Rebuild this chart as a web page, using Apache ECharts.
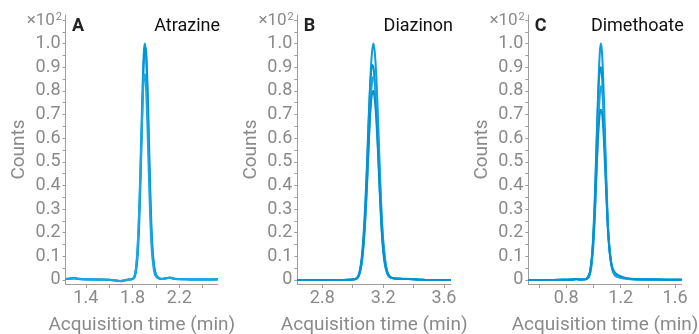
<!DOCTYPE html>
<html>
<head>
<meta charset="utf-8">
<script src="https://cdn.jsdelivr.net/npm/echarts@6/dist/echarts.min.js"></script>
<style>
html,body{margin:0;padding:0;background:#fff;}
#chart{width:699px;height:334px;}
</style>
</head>
<body>
<div id="chart"></div>
<script>
// ---- Data ----
const panelLetters = ['A', 'B', 'C'];
const compounds = ['Atrazine', 'Diazinon', 'Dimethoate'];
const yTicks = [0, 0.05, 0.1, 0.15, 0.2, 0.25, 0.3, 0.35, 0.4, 0.45, 0.5, 0.55, 0.6, 0.65, 0.7, 0.75, 0.8, 0.85, 0.9, 0.95, 1.0, 1.05, 1.1];
const yLabels = [0, 0.1, 0.2, 0.3, 0.4, 0.5, 0.6, 0.7, 0.8, 0.9, 1.0];
const xRanges = [[1.226, 2.531], [2.636, 3.646], [0.521, 1.649]];
const xTicksA = [1.4, 1.6, 1.8, 2.0, 2.2, 2.4];
const xLabelsA = [1.4, 1.8, 2.2];
const xTicksB = [2.8, 3.0, 3.2, 3.4, 3.6];
const xLabelsB = [2.8, 3.2, 3.6];
const xTicksC = [0.6, 0.8, 1.0, 1.2, 1.4, 1.6];
const xLabelsC = [0.8, 1.2, 1.6];

// Atrazine (A)
const tA = [1.226,1.26,1.30,1.34,1.40,1.50,1.60,1.66,1.70,1.74,1.78,1.80,1.815,1.83,1.845,1.86,1.87,1.88,1.89,1.897,1.905,1.913,1.92,1.93,1.94,1.95,1.96,1.97,1.985,2.00,2.02,2.05,2.09,2.12,2.16,2.25,2.35,2.45,2.531];
const atrazine1 = [0.004,0.006,0.008,0.005,0.003,0.002,0.001,-0.002,-0.005,-0.001,0.002,0.005,0.012,0.05,0.15,0.35,0.53,0.72,0.89,0.97,1.00,0.97,0.89,0.72,0.53,0.35,0.21,0.12,0.05,0.02,0.008,0.004,0.008,0.010,0.005,0.003,0.002,0.002,0.003];
const atrazine2 = [0.003,0.005,0.007,0.004,0.002,0.002,0.001,-0.003,-0.004,0.000,0.003,0.004,0.009,0.035,0.11,0.28,0.45,0.64,0.83,0.93,0.975,0.98,0.93,0.79,0.60,0.41,0.25,0.14,0.06,0.025,0.01,0.005,0.007,0.009,0.004,0.003,0.002,0.002,0.003];
const atrazine3 = [0.004,0.005,0.006,0.005,0.003,0.001,0.000,-0.002,-0.004,0.000,0.002,0.006,0.014,0.055,0.16,0.34,0.50,0.66,0.80,0.86,0.87,0.83,0.75,0.60,0.43,0.28,0.16,0.09,0.035,0.015,0.007,0.004,0.007,0.009,0.005,0.003,0.002,0.002,0.002];

// Diazinon (B)
const tB = [2.636,2.70,2.80,2.90,2.98,3.01,3.03,3.045,3.06,3.075,3.09,3.10,3.11,3.12,3.128,3.136,3.144,3.152,3.16,3.17,3.18,3.195,3.21,3.225,3.24,3.26,3.30,3.35,3.40,3.45,3.50,3.60,3.646];
const diazinon1 = [0,0,0,0,0.001,0.003,0.008,0.028,0.08,0.20,0.40,0.57,0.75,0.90,0.97,1.00,0.97,0.90,0.79,0.62,0.44,0.22,0.10,0.04,0.018,0.009,0.005,0.004,0.003,0.001,0,0,0];
const diazinon2 = [0,0,0,0,0.001,0.004,0.01,0.035,0.10,0.23,0.43,0.60,0.76,0.87,0.91,0.90,0.85,0.77,0.66,0.50,0.34,0.16,0.07,0.03,0.013,0.007,0.005,0.004,0.003,0.001,0,0,0];
const diazinon3 = [0,0,0,0,0.001,0.002,0.007,0.024,0.07,0.17,0.34,0.49,0.65,0.78,0.84,0.86,0.84,0.78,0.69,0.55,0.40,0.21,0.10,0.04,0.018,0.009,0.006,0.005,0.003,0.001,0,0,0];
const diazinon4 = [0,0,0,0,0.001,0.003,0.009,0.03,0.085,0.19,0.36,0.50,0.64,0.75,0.79,0.80,0.77,0.71,0.62,0.49,0.35,0.18,0.08,0.035,0.015,0.008,0.005,0.004,0.003,0.001,0,0,0];

// Dimethoate (C)
const tC = [0.521,0.60,0.70,0.80,0.85,0.875,0.90,0.94,0.96,0.975,0.99,1.00,1.01,1.02,1.03,1.04,1.048,1.055,1.062,1.07,1.08,1.09,1.10,1.11,1.125,1.14,1.16,1.19,1.23,1.28,1.35,1.45,1.55,1.649];
const dimethoate1 = [0,0,0,0.001,0.002,0.004,0.002,0.003,0.01,0.03,0.10,0.19,0.32,0.51,0.70,0.88,0.97,1.00,0.97,0.88,0.71,0.52,0.34,0.20,0.09,0.04,0.018,0.01,0.006,0.003,0.002,0.002,0.001,0.001];
const dimethoate2 = [0,0,0,0.001,0.002,0.004,0.002,0.003,0.012,0.035,0.11,0.21,0.35,0.53,0.70,0.84,0.89,0.90,0.87,0.79,0.64,0.47,0.31,0.19,0.10,0.05,0.028,0.016,0.009,0.004,0.002,0.002,0.001,0.001];
const dimethoate3 = [0,0,0,0.001,0.002,0.003,0.002,0.003,0.008,0.025,0.08,0.15,0.26,0.41,0.57,0.71,0.79,0.82,0.81,0.75,0.62,0.46,0.31,0.19,0.09,0.045,0.022,0.012,0.007,0.003,0.002,0.002,0.001,0.001];
const dimethoate4 = [0,0,0,0.001,0.002,0.004,0.002,0.003,0.012,0.035,0.10,0.18,0.29,0.43,0.56,0.66,0.71,0.72,0.71,0.66,0.55,0.42,0.29,0.18,0.09,0.05,0.03,0.018,0.01,0.005,0.003,0.002,0.001,0.001];

// ---- Chart ----
const FONT = 'Roboto';
const gray = '#8a8a8a';
const axisColor = '#9e9e9e';
const lineColors = ['#0a9ddf', '#0096d6', '#1ba6e3', '#0590cf'];

const panels = [
  { t: tA, series: [atrazine1, atrazine2, atrazine3], xt: xTicksA, xl: xLabelsA },
  { t: tB, series: [diazinon1, diazinon2, diazinon3, diazinon4], xt: xTicksB, xl: xLabelsB },
  { t: tC, series: [dimethoate1, dimethoate2, dimethoate3, dimethoate4], xt: xTicksC, xl: xLabelsC }
];

const gridBoxes = [
  { left: 65.5, width: 152.5 },
  { left: 297.3, width: 153.7 },
  { left: 528.3, width: 153.4 }
];

const grids = [], xAxes = [], yAxes = [], series = [], graphics = [];
panels.forEach((p, i) => {
  const g = gridBoxes[i];
  grids.push({ left: g.left, top: 15, width: g.width, height: 269, containLabel: false, outerBoundsMode: 'none' });
  xAxes.push({
    type: 'value', gridIndex: i, min: xRanges[i][0], max: xRanges[i][1],
    axisLine: { show: true, onZero: false, lineStyle: { color: axisColor, width: 1 } },
    axisTick: { show: true, length: 4, inside: false, customValues: p.xt, lineStyle: { color: axisColor } },
    axisLabel: { customValues: p.xl, formatter: v => v.toFixed(1), fontSize: 18, color: gray, fontFamily: FONT, margin: 5, showMinLabel: true, showMaxLabel: true },
    splitLine: { show: false },
    name: 'Acquisition time (min)', nameLocation: 'middle', nameGap: 32,
    nameTextStyle: { fontSize: 19, color: gray, fontFamily: FONT }
  });
  yAxes.push({
    type: 'value', gridIndex: i, min: -0.017, max: 1.121,
    axisLine: { show: true, lineStyle: { color: axisColor, width: 1 } },
    axisTick: { show: true, length: 3, customValues: yTicks, lineStyle: { color: axisColor } },
    axisLabel: { customValues: yLabels, formatter: v => (v === 0 ? '0' : v.toFixed(1)), fontSize: 18, color: gray, fontFamily: FONT, margin: 5 },
    splitLine: { show: false },
    name: 'Counts', nameLocation: 'middle', nameGap: 37,
    nameTextStyle: { fontSize: 19, color: gray, fontFamily: FONT }
  });
  p.series.forEach((vals, k) => {
    series.push({
      type: 'line', xAxisIndex: i, yAxisIndex: i,
      data: p.t.map((t, j) => [t, vals[j]]),
      showSymbol: false, smooth: 0.4, clip: false,
      lineStyle: { width: 2, color: lineColors[k % lineColors.length] },
      emphasis: { disabled: true }
    });
  });
  graphics.push({
    type: 'text', x: g.left - 3.5, y: 21,
    style: {
      text: '×10{s|2}', textAlign: 'right', textVerticalAlign: 'middle', fontSize: 17, fill: gray, fontFamily: FONT,
      rich: { s: { fontSize: 11, fill: gray, fontFamily: FONT, verticalAlign: 'top', padding: [0, 0, 8, 1] } }
    }
  });
  graphics.push({
    type: 'text', x: g.left + 6.5, y: 26,
    style: { text: panelLetters[i], textAlign: 'left', textVerticalAlign: 'middle', fontSize: 18, fontWeight: 'bold', fill: '#222', fontFamily: FONT }
  });
  graphics.push({
    type: 'text', x: g.left + g.width + 2, y: 26,
    style: { text: compounds[i], textAlign: 'right', textVerticalAlign: 'middle', fontSize: 18, fill: '#111', fontFamily: FONT }
  });
});

const chart = echarts.init(document.getElementById('chart'), null, { renderer: 'canvas' });
chart.setOption({
  animation: false,
  backgroundColor: '#fff',
  grid: grids, xAxis: xAxes, yAxis: yAxes, series: series, graphic: graphics
});
</script>
</body>
</html>
